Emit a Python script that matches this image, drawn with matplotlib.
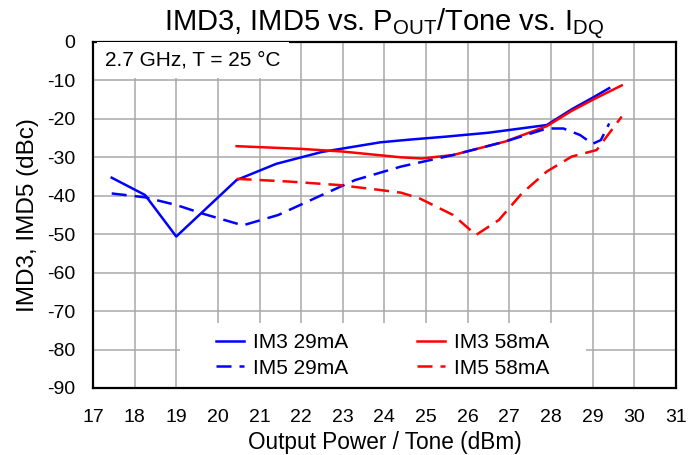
import matplotlib.pyplot as plt
from matplotlib.patches import Rectangle

plt.rcParams['font.family'] = ['Liberation Sans', 'DejaVu Sans']
plt.rcParams['axes.unicode_minus'] = False

# IM3 / IM5 vs output power per tone, two quiescent currents
im3_29_x = [17.45, 18.25, 19.0, 20.45, 21.4, 22.5, 23.9, 24.6, 25.5, 26.5, 27.9, 28.5, 29.0, 29.4]
im3_29_y = [-35.3, -39.8, -50.6, -35.9, -31.7, -28.6, -26.1, -25.4, -24.6, -23.6, -21.6, -17.5, -14.5, -12.0]

im5_29_x = [17.45, 18.25, 19.0, 19.65, 20.6, 21.45, 22.5, 23.3, 24.4, 25.65, 26.9, 27.9, 28.3, 28.7, 29.0, 29.2, 29.4]
im5_29_y = [-39.4, -40.4, -42.4, -44.7, -47.7, -45.0, -39.8, -35.9, -32.4, -29.4, -25.9, -22.5, -22.5, -24.2, -26.5, -25.5, -21.2]

im3_58_x = [20.45, 22.0, 23.0, 24.4, 24.9, 25.65, 26.9, 27.9, 28.5, 29.1, 29.7]
im3_58_y = [-27.1, -27.8, -28.5, -30.0, -30.3, -29.4, -25.9, -21.9, -17.9, -14.5, -11.3]

im5_58_x = [20.45, 21.7, 22.9, 23.9, 24.4, 24.85, 25.65, 26.2, 26.75, 27.3, 27.9, 28.5, 29.1, 29.25, 29.7]
im5_58_y = [-35.6, -36.3, -37.2, -38.5, -39.2, -40.7, -45.0, -50.2, -46.3, -39.4, -33.7, -29.8, -28.1, -25.9, -19.4]

fig = plt.figure(figsize=(6.96, 4.55), dpi=100)
ax = fig.add_axes([0.1336, 0.1473, 0.8374, 0.7604])

blue = '#0000ff'
red = '#ff0000'
dash = (0, (6, 3.2))

ax.plot(im3_29_x, im3_29_y, color=blue, lw=1.8, label='IM3 29mA')
ax.plot(im3_58_x, im3_58_y, color=red, lw=1.8, label='IM3 58mA')
ax.plot(im5_29_x, im5_29_y, color=blue, lw=1.8, ls=dash, label='IM5 29mA')
ax.plot(im5_58_x, im5_58_y, color=red, lw=1.8, ls=dash, label='IM5 58mA')

ax.set_xlim(17, 31)
ax.set_ylim(-90, 0)
ax.set_xticks(range(17, 32))
ax.set_yticks(range(-90, 1, 10))
ax.tick_params(length=0, labelsize=14)
ax.tick_params(axis='x', pad=15)
ax.tick_params(axis='y', pad=12.5)
ax.grid(color='#a8a8a8', lw=1.1)
ax.set_axisbelow(True)
for s in ax.spines.values():
    s.set_linewidth(1.6)

ax.set_xlabel('Output Power / Tone (dBm)', fontsize=16.3, labelpad=4)
ax.set_ylabel('IMD3, IMD5 (dBc)', fontsize=17.5, labelpad=6)
ax.set_title('IMD3, IMD5 vs. P$_{\\mathregular{OUT}}$/Tone vs. I$_{\\mathregular{DQ}}$', fontsize=21, pad=5)

ax.text(17.3, -4.7, '2.7 GHz, T = 25 °C', fontsize=15, va='center', ha='left',
        bbox=dict(facecolor='white', edgecolor='none', pad=6), zorder=3)

# white patch behind the legend, covering the grid
ax.add_patch(Rectangle((0.149, 0.0), 0.697, 0.188, transform=ax.transAxes,
                       facecolor='white', edgecolor='none', zorder=1.5))

handles, labels = ax.get_legend_handles_labels()
order = [0, 2, 1, 3]
leg = ax.legend([handles[i] for i in order], [labels[i] for i in order], ncol=2,
                loc='center', bbox_to_anchor=(0.497, 0.094), fontsize=15,
                frameon=False, borderpad=0,
                handlelength=1.35, handletextpad=0.43, columnspacing=3.3, labelspacing=0.3)

fig.savefig('out.png', dpi=100)
